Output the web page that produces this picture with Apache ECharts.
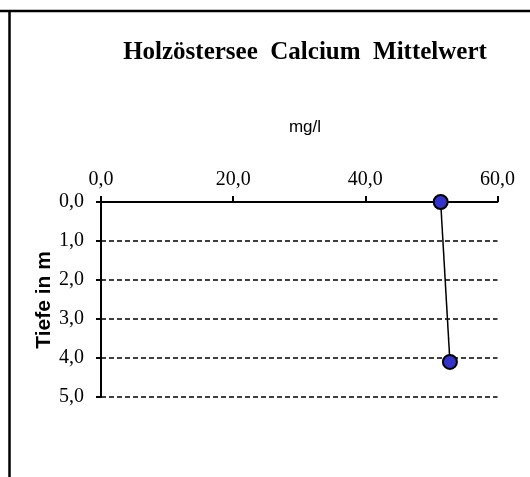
<!DOCTYPE html>
<html>
<head>
<meta charset="utf-8">
<script src="https://cdn.jsdelivr.net/npm/echarts@6/dist/echarts.min.js"></script>
<style>html,body{margin:0;padding:0;background:#fff;}#c{width:530px;height:477px;}</style>
</head>
<body>
<div id="c"></div>
<script>
var titleText = 'Holzöstersee  Calcium  Mittelwert';
var xName = 'mg/l';
var yName = 'Tiefe in m';
var calcium = [51.4, 52.8];
var depth = [0.0, 4.1];
var xTicks = [0, 20, 40, 60];
var yTicks = [0, 1, 2, 3, 4, 5];

var chart = echarts.init(document.getElementById('c'), null, {renderer: 'canvas'});
var pts = calcium.map(function (v, i) { return [v, depth[i]]; });
function fmt(v) { return Number(v).toFixed(1).replace('.', ','); }

chart.setOption({
  animation: false,
  backgroundColor: '#ffffff',
  graphic: [
    {type: 'line', shape: {x1: 0, y1: 11, x2: 530, y2: 11}, style: {stroke: '#000', lineWidth: 2.5}},
    {type: 'line', shape: {x1: 9.5, y1: 11, x2: 9.5, y2: 477}, style: {stroke: '#000', lineWidth: 2.5}},
    {type: 'text', x: 305, y: 53, style: {text: titleText, font: 'bold 25px "Liberation Serif"', fill: '#000', textAlign: 'center', textVerticalAlign: 'middle'}},
    {type: 'text', x: 305, y: 127, style: {text: xName, font: '17px "Liberation Sans"', fill: '#000', textAlign: 'center', textVerticalAlign: 'middle'}},
    {type: 'text', x: 44, y: 300, rotation: Math.PI / 2, style: {text: yName, font: 'bold 21px "Liberation Sans"', fill: '#000', textAlign: 'center', textVerticalAlign: 'middle'}}
  ],
  grid: {left: 101, right: 32.5, top: 202, bottom: 80, containLabel: false},
  xAxis: {
    type: 'value', position: 'top', min: xTicks[0], max: xTicks[xTicks.length - 1], interval: 20,
    axisLine: {show: true, onZero: false, lineStyle: {color: '#000', width: 2}},
    axisTick: {show: true, inside: false, length: 6, lineStyle: {color: '#000', width: 2}},
    axisLabel: {formatter: fmt, color: '#000', fontFamily: 'Liberation Serif', fontSize: 20, margin: 12},
    splitLine: {show: false}
  },
  yAxis: {
    type: 'value', inverse: true, min: yTicks[0], max: yTicks[yTicks.length - 1], interval: 1,
    axisLine: {show: true, onZero: false, lineStyle: {color: '#000', width: 2}},
    axisTick: {show: true, inside: false, length: 5, lineStyle: {color: '#000', width: 2}},
    axisLabel: {formatter: fmt, color: '#000', fontFamily: 'Liberation Serif', fontSize: 20, margin: 17},
    splitLine: {show: true, lineStyle: {color: '#000', width: 1.5, type: [5, 3]}}
  },
  series: [{
    type: 'line', data: pts, symbol: 'circle', symbolSize: 14,
    lineStyle: {color: '#000', width: 1.5},
    itemStyle: {color: '#3333cc', borderColor: '#000', borderWidth: 2},
    z: 5
  }]
});
</script>
</body>
</html>
